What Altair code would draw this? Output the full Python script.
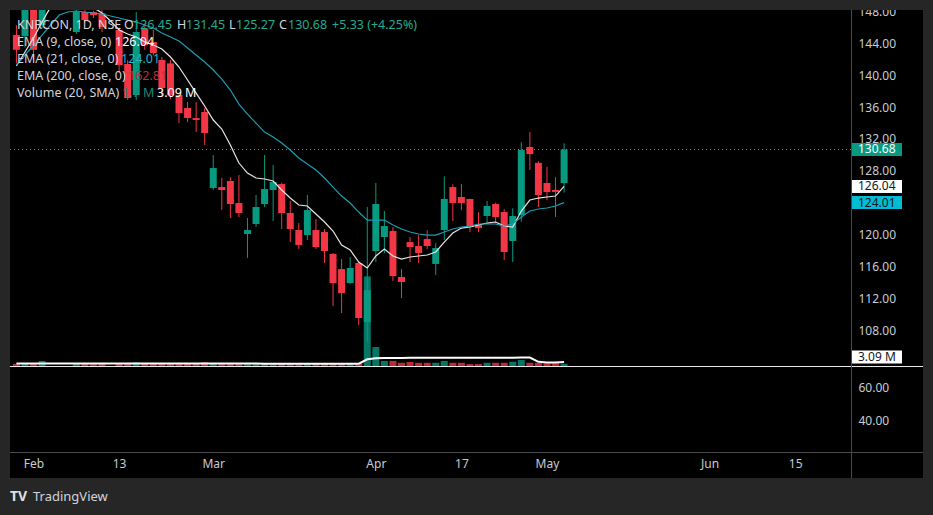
import altair as alt
import pandas as pd

# ---------------- data ----------------
bar_index = list(range(65))

open_ = [145.06, 144.9, 148.5, 146.3, None, None, None, 145.44, 147.95, 147.95,
         147.8, None, 145.69, 141.42, 137.52, 145.9, 144.18, 141.92, 141.5, 137.52,
         135.89, 134.63, 135.39, 125.84, 125.96, 126.72, 123.95, 120.06, 121.32, 123.83,
         125.59, 126.34, 122.70, 120.56, 119.93, 120.56, 120.31, 117.55, 115.66, 113.90,
         116.42, 109.0, 117.92, 119.68, 120.44, 114.66, 119.05, 118.55, 119.43, 116.3,
         120.56, 125.96, 124.71, 124.46, 121.19, 122.32, 123.83, 122.82, 119.18, 122.45,
         131.0, 129.0, 126.47, 125.6, 126.45]
high_ = [146.3, 149.5, 149.5, 149.0, None, None, None, 148.6, 148.4, 148.1,
         148.2, None, 146.0, 141.9, 147.95, 146.5, 145.7, 142.3, 141.9, 137.6,
         136.64, 136.64, 135.89, 129.98, 127.1, 127.2, 127.47, 122.07, 124.96, 129.98,
         128.73, 126.5, 124.21, 121.44, 124.96, 121.94, 120.69, 117.7, 116.92, 117.17,
         116.54, 123.45, 126.47, 122.95, 120.94, 115.66, 119.68, 119.93, 120.56, 118.9,
         127.3, 126.3, 126.34, 124.5, 122.8, 124.21, 124.0, 123.2, 123.3, 131.6,
         132.87, 129.2, 128.48, 127.2, 131.45]
low_ = [141.5, 143.5, 141.9, 145.9, None, None, None, 145.2, 146.6, 147.2,
        145.44, None, 140.29, 136.9, 136.9, 143.2, 142.5, 137.27, 137.0, 134.0,
        134.13, 132.87, 131.24, 125.6, 123.07, 122.07, 122.19, 117.05, 120.94, 123.45,
        121.69, 120.69, 119.05, 118.18, 119.31, 118.18, 116.42, 111.02, 110.14, 113.8,
        108.63, 106.5, 116.54, 117.67, 114.16, 112.02, 116.54, 116.42, 118.18, 114.9,
        119.3, 121.7, 123.07, 120.3, 120.3, 121.57, 121.44, 116.8, 116.54, 121.6,
        128.1, 123.45, 124.33, 122.2, 125.27]
close_ = [143.2, 148.5, 143.2, 148.5, None, None, None, 148.0, 146.94, 147.57,
          146.06, None, 141.29, 137.15, 145.44, 143.8, 142.8, 138.4, 137.5, 135.26,
          134.63, 134.38, 132.75, 128.35, 125.59, 123.83, 122.70, 120.56, 123.45, 125.71,
          126.59, 122.70, 120.69, 118.68, 123.07, 118.43, 117.92, 113.90, 112.65, 115.79,
          109.51, 113.0, 123.83, 121.06, 114.78, 114.03, 118.43, 117.67, 118.55, 118.3,
          124.46, 123.95, 123.95, 120.94, 120.8, 123.58, 122.19, 117.8, 122.32, 130.61,
          130.1, 124.96, 125.34, 125.35, 130.68]
volume_m = [1.6, 1.8, 2.0, 3.9, None, None, None, 2.0, 1.6, 1.4,
            1.7, None, 2.2, 2.0, 2.8, 1.9, 1.5, 2.0, 2.1, 1.8,
            1.6, 1.5, 2.8, 2.2, 1.4, 1.7, 1.5, 1.6, 1.5, 1.8,
            1.4, 1.7, 1.5, 1.4, 1.6, 1.5, 1.6, 1.9, 1.8, 1.5,
            2.2, 69.0, 14.6, 3.9, 3.9, 2.5, 3.1, 2.5, 2.5, 2.5,
            3.9, 2.5, 2.5, 1.5, 1.5, 2.5, 2.5, 2.5, 3.3, 4.6,
            2.5, 2.5, 2.1, 2.1, 1.7]
vol_sma_m = [2.0, 2.0, 2.0, 2.0, 2.0, 2.0, 2.0, 2.0, 2.0, 2.0,
             2.0, 2.0, 2.0, 2.0, 2.0, 2.0, 2.0, 2.0, 2.0, 2.0,
             1.9, 1.9, 1.9, 1.9, 1.9, 1.9, 1.9, 1.9, 1.9, 1.8,
             1.8, 1.8, 1.8, 1.8, 1.8, 1.8, 1.8, 1.8, 1.8, 1.8,
             1.8, 5.2, 6.0, 6.1, 6.2, 6.2, 6.3, 6.3, 6.3, 6.3,
             6.4, 6.4, 6.4, 6.4, 6.4, 6.4, 6.4, 6.4, 6.4, 6.5,
             6.5, 3.2, 2.7, 2.8, 3.09]
ema9 = [141.17, 142.93, 144.68, 146.69, 148.6, 149.0, 149.2, 149.2, 148.9, 148.5,
        147.82, 146.82, 145.69, 145.19, 144.81, 144.18, 143.80, 143.30, 142.30, 141.04,
        139.41, 137.77, 136.14, 134.38, 133.25, 131.24, 128.98, 127.72, 127.10, 126.97,
        126.72, 125.59, 124.58, 123.70, 123.58, 122.57, 121.57, 120.44, 118.68, 118.05,
        116.54, 115.79, 117.30, 118.18, 117.30, 116.92, 117.17, 117.30, 117.42, 117.80,
        119.05, 120.19, 120.81, 120.94, 121.19, 121.44, 121.57, 121.06, 120.94, 122.95,
        124.33, 124.58, 124.71, 124.83, 126.04]
ema21 = [141.29, 142.55, 143.80, 145.06, 146.32, 147.57, 147.95, 148.08, 147.95, 147.82,
         147.70, 147.45, 147.20, 146.94, 146.69, 146.32, 145.94, 145.31, 144.81, 144.31,
         143.43, 142.55, 141.67, 140.66, 139.53, 138.15, 136.39, 135.13, 134.00, 132.87,
         132.25, 131.49, 130.61, 129.61, 128.85, 128.10, 127.10, 125.96, 124.83, 123.95,
         122.82, 121.81, 121.81, 121.81, 121.19, 120.69, 120.31, 120.06, 119.93, 119.93,
         120.31, 120.69, 120.94, 121.06, 121.32, 121.32, 121.32, 121.06, 121.32, 122.19,
         122.95, 123.20, 123.33, 123.58, 124.01]
ema200_last = 162.81

tick_idx = [2, 12, 23, 42, 52, 62, 81, 91]
tick_text = ["Feb", "13", "Mar", "Apr", "17", "May", "Jun", "15"]
price_ticks = [108, 112, 116, 120, 124, 128, 132, 136, 140, 144, 148]
lower_ticks = [40, 60]

# ---------------- styling ----------------
FONT = "Noto Sans"
UP, DOWN = "#089981", "#f23645"
GREEN_TXT = "#22ab94"
CYAN = "#00bcd4"
EMA21_LINE = "#1a9db2"
FRAME = "#262626"
AXIS_TXT = "#c9cbd1"
W, H = 933, 515

df = pd.DataFrame({
    "i": bar_index, "open": open_, "high": high_, "low": low_, "close": close_,
    "vol": volume_m, "vol_sma": vol_sma_m, "ema9": ema9, "ema21": ema21,
})
df["dir"] = ["up" if (o is not None and c is not None and c >= o) else "down"
             for o, c in zip(open_, close_)]

label_expr = " : ".join(f"datum.value == {v} ? '{t}'" for v, t in zip(tick_idx, tick_text)) + " : ''"

x_scale = alt.Scale(domain=[-1.335, 106.526], nice=False, zero=False)
x_axis = alt.Axis(orient="bottom", offset=-63, values=tick_idx, labelExpr=label_expr,
                  grid=False, ticks=False, domain=False, labelColor=AXIS_TXT, labelFont=FONT,
                  labelFontSize=12, labelPadding=6, labelFlush=False, labelOverlap=False, title=None)
X = alt.X("i:Q", scale=x_scale, axis=x_axis)

price_scale = alt.Scale(domain=[84.76, 149.46], nice=False, zero=False)
vol_scale = alt.Scale(domain=[-114.7, 281.8], nice=False, zero=False)
low_scale = alt.Scale(domain=[-17.15, 294.97], nice=False, zero=False)

price_axis = alt.Axis(orient="right", offset=-81, values=price_ticks, format=".2f", grid=False,
                      ticks=False, domain=False, labelColor=AXIS_TXT, labelFont=FONT,
                      labelFontSize=12, labelPadding=6, labelOverlap=False, title=None)
low_axis = alt.Axis(orient="right", offset=-81, values=lower_ticks, format=".2f", grid=False,
                    ticks=False, domain=False, labelColor=AXIS_TXT, labelFont=FONT,
                    labelFontSize=12, labelPadding=6, labelOverlap=False, title=None)

COLOR = alt.Color("dir:N", scale=alt.Scale(domain=["up", "down"], range=[UP, DOWN]), legend=None)

base = alt.Chart(df)

vol_bars = base.transform_filter("isValid(datum.vol)").mark_bar(size=7, opacity=0.78).encode(
    x=X, y=alt.Y("vol:Q", scale=vol_scale, axis=None), color=COLOR)
vol_line = base.mark_line(color="#ffffff", strokeWidth=2).encode(
    x=X, y=alt.Y("vol_sma:Q", scale=vol_scale, axis=None))

wicks = base.transform_filter("isValid(datum.open)").mark_rule(strokeWidth=1).encode(
    x=X, y=alt.Y("low:Q", scale=price_scale, axis=None), y2="high:Q", color=COLOR)
bodies = base.transform_filter("isValid(datum.open)").mark_bar(size=7).encode(
    x=X, y=alt.Y("open:Q", scale=price_scale, axis=price_axis), y2="close:Q", color=COLOR)

ema9_line = base.mark_line(color="#e6e6e6", strokeWidth=1.2).encode(
    x=X, y=alt.Y("ema9:Q", scale=price_scale, axis=None))
ema21_line = base.mark_line(color=EMA21_LINE, strokeWidth=1.2).encode(
    x=X, y=alt.Y("ema21:Q", scale=price_scale, axis=None))

last_df = pd.DataFrame({"p": [close_[-1]]})
last_line = alt.Chart(last_df).mark_rule(color=GREEN_TXT, strokeDash=[1, 3], strokeWidth=1).encode(
    y=alt.Y("p:Q", scale=price_scale, axis=None), x=alt.value(10), x2=alt.value(852))

lower_ghost = alt.Chart(pd.DataFrame({"v": lower_ticks})).mark_point(opacity=0).encode(
    y=alt.Y("v:Q", scale=low_scale, axis=low_axis), x=alt.value(500))

one = pd.DataFrame({"k": [0]})
BOX_SHAPE = "M-1,-0.26H1V0.26H-1Z"


def price_box(value, fill, text_color):
    d = pd.DataFrame({"p": [value], "t": [f"{value:.2f}"]})
    box = alt.Chart(d).mark_point(shape=BOX_SHAPE, filled=True, size=2500, opacity=1,
                                  strokeWidth=0, color=fill).encode(
        y=alt.Y("p:Q", scale=price_scale, axis=None), x=alt.value(877))
    lab = alt.Chart(d).mark_text(align="left", baseline="middle", font=FONT, fontSize=12,
                                 color=text_color).encode(
        y=alt.Y("p:Q", scale=price_scale, axis=None), x=alt.value(858), text="t:N")
    return [box, lab]


def rect(x, x2, y, y2, color):
    return alt.Chart(one).mark_rect(color=color).encode(
        x=alt.value(x), x2=alt.value(x2), y=alt.value(y), y2=alt.value(y2))


def rule(x, x2, y, y2, color, w=1):
    return alt.Chart(one).mark_rule(color=color, strokeWidth=w).encode(
        x=alt.value(x), x2=alt.value(x2), y=alt.value(y), y2=alt.value(y2))


def txt(s, x, y, color, size=12.5, weight="normal"):
    return alt.Chart(one).mark_text(text=s, align="left", baseline="middle", font=FONT,
                                    fontSize=size, color=color, fontWeight=weight).encode(
        x=alt.value(x), y=alt.value(y))


boxes = (price_box(close_[-1], UP, "#ffffff")
         + price_box(ema9[-1], "#ffffff", "#131722")
         + price_box(ema21[-1], CYAN, "#131722"))

sma_box = alt.Chart(one).mark_point(shape=BOX_SHAPE, filled=True, size=2500, opacity=1,
                                    color="#ffffff", strokeWidth=0).encode(
    x=alt.value(877), y=alt.value(357))
sma_txt = txt(f"{vol_sma_m[-1]:.2f} M", 858, 357, "#131722", 12)

frame = [
    rect(0, W, 0, 10, FRAME),
    rect(0, 10, 0, H, FRAME),
    rect(923, W, 0, H, FRAME),
    rect(0, W, 478, H, FRAME),
]
seps = [
    rule(10, 923, 366.5, 366.5, "#e8e8e8", 1),
    rule(10, 923, 452.5, 452.5, "#4a4a4a", 1),
    rule(851.5, 851.5, 10, 478, "#4a4a4a", 1),
]

chg = close_[-1] - close_[-2]
pct = chg / close_[-2] * 100
W_TXT = "#d1d4dc"
legend = [
    txt("KNRCON, 1D, NSE", 17, 25, W_TXT),
    txt("O", 124, 25, W_TXT), txt(f"{open_[-1]:.2f}", 133, 25, GREEN_TXT),
    txt("H", 177, 25, W_TXT), txt(f"{high_[-1]:.2f}", 186, 25, GREEN_TXT),
    txt("L", 229, 25, W_TXT), txt(f"{low_[-1]:.2f}", 236, 25, GREEN_TXT),
    txt("C", 279, 25, W_TXT), txt(f"{close_[-1]:.2f}", 288, 25, GREEN_TXT),
    txt(f"+{chg:.2f} (+{pct:.2f}%)", 332, 25, GREEN_TXT),
    txt("EMA (9, close, 0)", 17, 42, W_TXT), txt(f"{ema9[-1]:.2f}", 115, 42, "#ffffff"),
    txt("EMA (21, close, 0)", 17, 59, W_TXT), txt(f"{ema21[-1]:.2f}", 121, 59, "#1fb5cc"),
    txt("EMA (200, close, 0)", 17, 76, W_TXT), txt(f"{ema200_last:.2f}", 128, 76, "#b8323f"),
    txt("Volume (20, SMA)", 17, 93, W_TXT), txt(f"{volume_m[-1]:.1f} M", 122, 93, "#1b8a76"),
    txt(f"{vol_sma_m[-1]:.2f} M", 157, 93, "#ffffff"),
    txt("TV", 10, 497, "#e0e0e0", 14, "bold"),
    txt("TradingView", 33, 497, "#d1d4dc", 13),
]

chart = alt.layer(
    vol_bars, vol_line, wicks, bodies, ema9_line, ema21_line, last_line, lower_ghost,
    *frame, *seps, *boxes, sma_box, sma_txt, *legend
).resolve_scale(y="independent").properties(
    width=W, height=H, background="#000000", padding=0,
    autosize=alt.AutoSizeParams(type="none")
).configure_view(stroke=None)

chart.save("out.html", embed_options={"renderer": "svg", "actions": False})
